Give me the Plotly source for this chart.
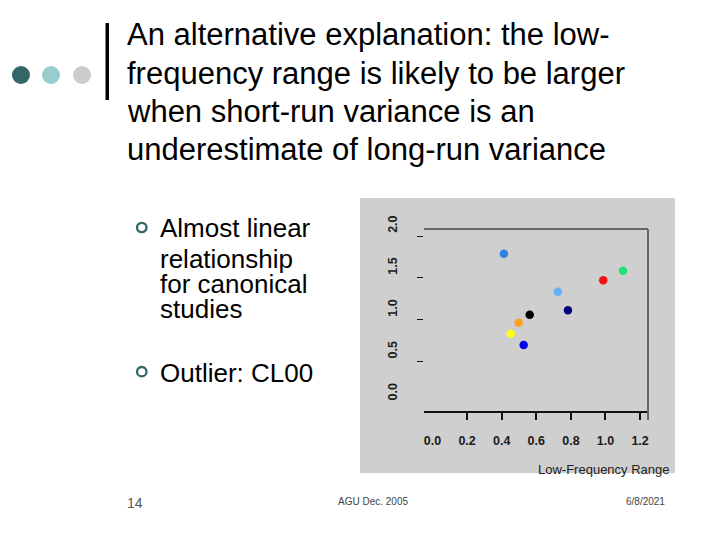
import plotly.graph_objects as go

W, H = 720, 540

# ---- data ----
low_freq_range = [0.413, 1.101, 0.987, 0.725, 0.783, 0.562, 0.498, 0.452, 0.527]
variance_ratio = [1.789, 1.586, 1.471, 1.335, 1.113, 1.061, 0.965, 0.834, 0.699]
point_colors = ["#3080e0", "#22e07a", "#f21010", "#66b0f8", "#00007a",
                "#000000", "#ffa020", "#ffff10", "#0000ee"]

x_label_vals = [0.0, 0.2, 0.4, 0.6, 0.8, 1.0, 1.2]
x_label_text = ["0.0", "0.2", "0.4", "0.6", "0.8", "1.0", "1.2"]
x_tick_vals = [0.2, 0.4, 0.6, 0.8, 1.0, 1.2]
y_label_vals = [0.0, 0.5, 1.0, 1.5, 2.0]
y_label_text = ["0.0", "0.5", "1.0", "1.5", "2.0"]
y_tick_vals = [0.5, 1.0, 1.5, 2.0]

title_lines = ["An alternative explanation: the low-",
               "frequency range is likely to be larger",
               "when short-run variance is an",
               "underestimate of long-run variance"]
bullet1_lines = ["Almost linear", "relationship", "for canonical", "studies"]
bullet2_text = "Outlier: CL00"
x_title = "Low-Frequency Range"
footer_page = "14"
footer_mid = "AGU Dec. 2005"
footer_date = "6/8/2021"


def px(x):
    return x / W


def py(y):
    return 1 - y / H


FONT = "Liberation Sans, Arial, sans-serif"

# plot-area geometry (pixels)
L, R, T, B = 424, 648, 229, 411
x_range = [-0.049, 1.2457]
y_range = [-0.088, 2.0835]
# y tick labels sit ~10 px above their tick marks in the reference:
# a free label-only axis with the same scale, shifted by that amount
Y_PX_PER_UNIT = (B - T) / (y_range[1] - y_range[0])
LABEL_SHIFT = 10
LT = 212
y3_range = [y_range[0] - LABEL_SHIFT / Y_PX_PER_UNIT,
            y_range[0] - LABEL_SHIFT / Y_PX_PER_UNIT + (B - LT) / Y_PX_PER_UNIT]

fig = go.Figure()
fig.add_trace(go.Scatter(
    x=low_freq_range, y=variance_ratio, mode="markers",
    marker=dict(size=8.5, color=point_colors, line=dict(width=0)),
    showlegend=False, hoverinfo="skip"))
fig.add_trace(go.Scatter(x=[], y=[], xaxis="x2", yaxis="y",
                         showlegend=False, hoverinfo="skip"))
fig.add_trace(go.Scatter(x=[], y=[], xaxis="x", yaxis="y3",
                         showlegend=False, hoverinfo="skip"))

tickfont = dict(family=FONT, size=12.5, color="#1a1a1a", weight="bold")

fig.update_layout(
    width=W, height=H,
    margin=dict(l=0, r=0, t=0, b=0),
    paper_bgcolor="white",
    plot_bgcolor="rgba(0,0,0,0)",
    xaxis=dict(domain=[px(L), px(R)], range=x_range, tickvals=x_label_vals,
               ticktext=x_label_text, ticks="", showgrid=False, zeroline=False,
               showline=True, linecolor="#111111", linewidth=1.5,
               tickfont=tickfont, ticklabelstandoff=17),
    yaxis=dict(domain=[py(B), py(T)], range=y_range, tickvals=y_tick_vals,
               ticks="outside", ticklen=6, tickwidth=1.2, tickcolor="#111111",
               showticklabels=False, showgrid=False, zeroline=False,
               showline=False),
    xaxis2=dict(domain=[px(L), px(R)], range=x_range, overlaying="x",
                anchor="y", side="bottom", tickvals=x_tick_vals, ticks="outside",
                ticklen=8, tickwidth=1.5, tickcolor="#111111",
                showticklabels=False, showgrid=False, zeroline=False,
                showline=False),
    yaxis3=dict(domain=[py(B), py(LT)], range=y3_range, anchor="free",
                position=px(L), side="left", tickvals=y_label_vals,
                ticktext=y_label_text, ticks="", showgrid=False, zeroline=False,
                showline=False, tickangle=-90, tickfont=tickfont,
                ticklabelstandoff=25),
)

shapes = []
# gray chart panel
shapes.append(dict(type="rect", xref="paper", yref="paper",
                   x0=px(360), x1=px(675), y0=py(473), y1=py(198),
                   fillcolor="#cfcfcf", line=dict(width=0), layer="below"))
# top and right frame lines
shapes.append(dict(type="line", xref="x domain", yref="y domain",
                   x0=0, x1=1, y0=1, y1=1, line=dict(color="#666666", width=2)))
shapes.append(dict(type="line", xref="x domain", yref="y domain",
                   x0=1, x1=1, y0=-0.05, y1=1, line=dict(color="#666666", width=2)))
# slide decoration: three dots and vertical bar
for cx, col in [(21, "#336668"), (51, "#99cccc"), (82, "#cccccc")]:
    shapes.append(dict(type="circle", xref="paper", yref="paper",
                       x0=px(cx - 9), x1=px(cx + 9), y0=py(84), y1=py(66),
                       fillcolor=col, line=dict(width=0)))
shapes.append(dict(type="rect", xref="paper", yref="paper",
                   x0=px(105.5), x1=px(109), y0=py(100), y1=py(23),
                   fillcolor="black", line=dict(width=0)))
# bullet rings
for cy in [227.5, 371.7]:
    shapes.append(dict(type="circle", xref="paper", yref="paper",
                       x0=px(137), x1=px(146.5), y0=py(cy + 4.7), y1=py(cy - 4.7),
                       line=dict(color="#336666", width=2.3)))
fig.update_layout(shapes=shapes)

ann = []
for i, line in enumerate(title_lines):
    ann.append(dict(text=line, x=px(125), y=py(35 + 38.3 * i), xref="paper",
                    yref="paper", xanchor="left", yanchor="middle",
                    showarrow=False, font=dict(family=FONT, size=31, color="black")))
for line, yy in zip(bullet1_lines, [228, 259, 283.5, 308.5]):
    ann.append(dict(text=line, x=px(158), y=py(yy), xref="paper", yref="paper",
                    xanchor="left", yanchor="middle", showarrow=False,
                    font=dict(family=FONT, size=26, color="black")))
ann.append(dict(text=bullet2_text, x=px(158), y=py(372.5), xref="paper",
                yref="paper", xanchor="left", yanchor="middle", showarrow=False,
                font=dict(family=FONT, size=26, color="black")))
ann.append(dict(text=x_title, x=px(672), y=py(469), xref="paper", yref="paper",
                xanchor="right", yanchor="middle", showarrow=False,
                font=dict(family=FONT, size=13, color="#222222")))
ann.append(dict(text=footer_page, x=px(135), y=py(503), xref="paper",
                yref="paper", xanchor="center", yanchor="middle", showarrow=False,
                font=dict(family=FONT, size=14, color="#555555")))
ann.append(dict(text=footer_mid, x=px(372.5), y=py(501), xref="paper",
                yref="paper", xanchor="center", yanchor="middle", showarrow=False,
                font=dict(family=FONT, size=10, color="#444444")))
ann.append(dict(text=footer_date, x=px(645.5), y=py(501), xref="paper",
                yref="paper", xanchor="center", yanchor="middle", showarrow=False,
                font=dict(family=FONT, size=10, color="#444444")))
fig.update_layout(annotations=ann)

fig.write_html("out.html",
               config={"displayModeBar": False},
               post_script="document.body.style.margin='0px';"
                           "document.body.style.overflow='hidden';")
